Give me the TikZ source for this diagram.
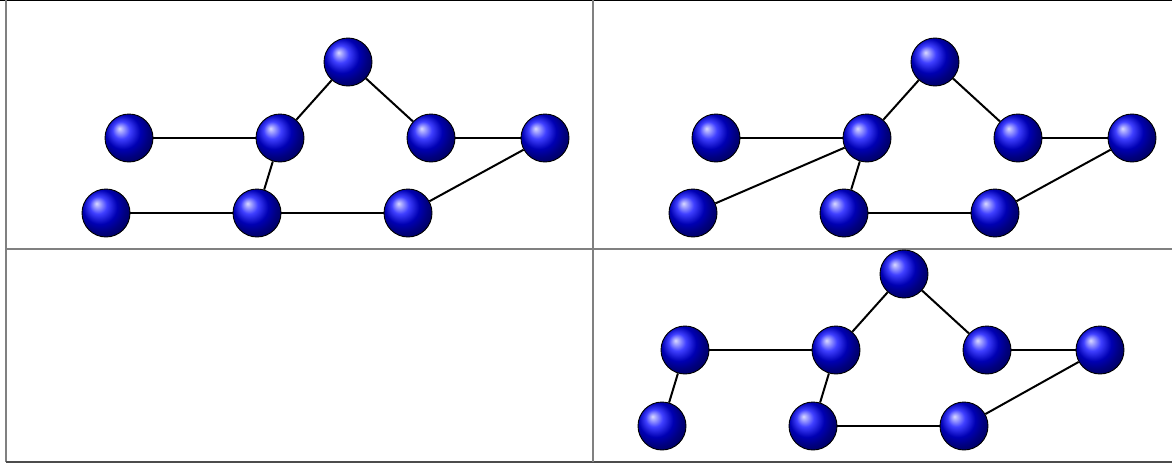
\documentclass[tikz,border=0pt]{standalone}
\begin{document}
\begin{tikzpicture}[x=1pt,y=-1pt,
  vtx/.style={circle,minimum size=48pt,inner sep=0pt,shading=ball,ball color=blue,draw=black,line width=0.9pt},
  edge/.style={line width=2pt,black},
  frame/.style={line width=1.6pt,color=gray}]
\useasboundingbox (0,0) rectangle (1172,463);
% frame
\draw[line width=1.2pt,black] (0,0.6) -- (1172,0.6);
\draw[frame] (6,0) -- (6,462);
\draw[frame,color=black!70] (6,462) -- (1172,462);
\draw[frame] (593,0) -- (593,462);
\draw[frame] (6,249) -- (1172,249);
% panel 1
\node[vtx] (a1) at (348,62) {};
\node[vtx] (b1) at (129,138) {};
\node[vtx] (c1) at (280,138) {};
\node[vtx] (d1) at (431,138) {};
\node[vtx] (e1) at (545,138) {};
\node[vtx] (f1) at (106,213) {};
\node[vtx] (g1) at (257,213) {};
\node[vtx] (h1) at (408,213) {};
% panel 2
\node[vtx] (a2) at (935,62) {};
\node[vtx] (b2) at (716,138) {};
\node[vtx] (c2) at (867,138) {};
\node[vtx] (d2) at (1018,138) {};
\node[vtx] (e2) at (1132,138) {};
\node[vtx] (f2) at (693,213) {};
\node[vtx] (g2) at (844,213) {};
\node[vtx] (h2) at (995,213) {};
% panel 4
\node[vtx] (a3) at (904,274) {};
\node[vtx] (b3) at (685,350) {};
\node[vtx] (c3) at (836,350) {};
\node[vtx] (d3) at (987,350) {};
\node[vtx] (e3) at (1100,350) {};
\node[vtx] (f3) at (662,426) {};
\node[vtx] (g3) at (813,426) {};
\node[vtx] (h3) at (964,426) {};
% edges
\draw[edge] (b1) -- (c1);
\draw[edge] (c1) -- (a1);
\draw[edge] (a1) -- (d1);
\draw[edge] (d1) -- (e1);
\draw[edge] (c1) -- (g1);
\draw[edge] (f1) -- (g1);
\draw[edge] (g1) -- (h1);
\draw[edge] (h1) -- (e1);
\draw[edge] (b2) -- (c2);
\draw[edge] (c2) -- (a2);
\draw[edge] (a2) -- (d2);
\draw[edge] (d2) -- (e2);
\draw[edge] (c2) -- (g2);
\draw[edge] (f2) -- (c2);
\draw[edge] (g2) -- (h2);
\draw[edge] (h2) -- (e2);
\draw[edge] (b3) -- (c3);
\draw[edge] (c3) -- (a3);
\draw[edge] (a3) -- (d3);
\draw[edge] (d3) -- (e3);
\draw[edge] (c3) -- (g3);
\draw[edge] (b3) -- (f3);
\draw[edge] (g3) -- (h3);
\draw[edge] (h3) -- (e3);
\end{tikzpicture}
\end{document}
